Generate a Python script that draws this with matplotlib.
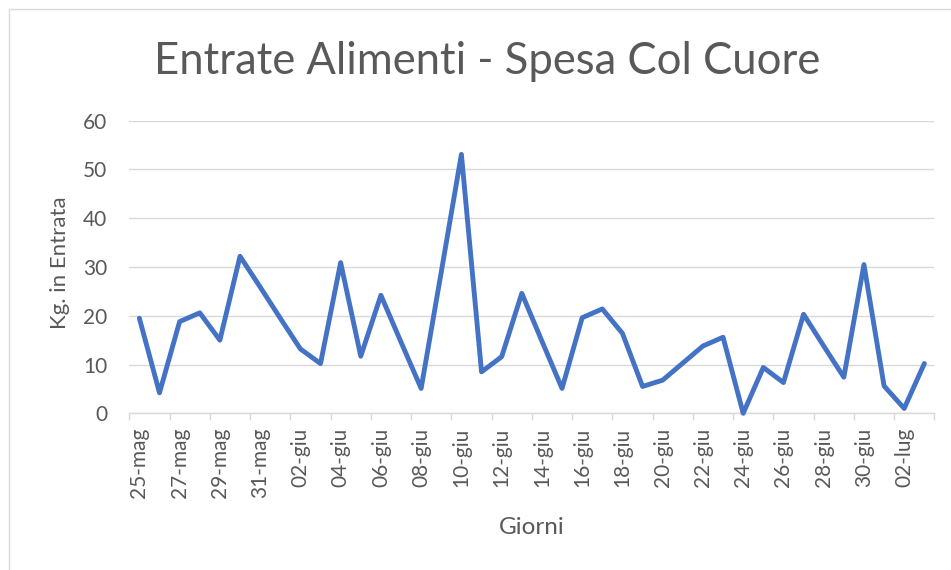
import matplotlib
matplotlib.use("Agg")
import matplotlib.pyplot as plt
from matplotlib.patches import Rectangle

days = ["25-mag", "26-mag", "27-mag", "28-mag", "29-mag", "30-mag", "31-mag",
        "01-giu", "02-giu", "03-giu", "04-giu", "05-giu", "06-giu", "07-giu",
        "08-giu", "09-giu", "10-giu", "11-giu", "12-giu", "13-giu", "14-giu",
        "15-giu", "16-giu", "17-giu", "18-giu", "19-giu", "20-giu", "21-giu",
        "22-giu", "23-giu", "24-giu", "25-giu", "26-giu", "27-giu", "28-giu",
        "29-giu", "30-giu", "01-lug", "02-lug", "03-lug"]
kg = [19.5, 4.2, 18.8, 20.6, 15.0, 32.2, 25.9, 19.5, 13.2, 10.2,
      30.9, 11.7, 24.2, 14.6, 5.1, 29.0, 53.1, 8.5, 11.6, 24.6,
      14.8, 5.1, 19.6, 21.4, 16.4, 5.5, 6.8, 10.3, 13.8, 15.6,
      0.0, 9.4, 6.3, 20.3, 13.8, 7.4, 30.5, 5.6, 1.0, 10.2]
yticks = [0, 10, 20, 30, 40, 50, 60]

title = "Entrate Alimenti - Spesa Col Cuore"
ylabel = "Kg. in Entrata"
xlabel = "Giorni"

FONT = ["Lato", "DejaVu Sans"]
plt.rcParams["font.family"] = FONT
TXT = "#595959"
GRID = "#d9d9d9"
LINE = "#4472C4"

W, H = 951, 570
fig = plt.figure(figsize=(W / 100, H / 100), dpi=100)
fig.patch.set_facecolor("white")

# chart border
fig.add_artist(Rectangle((9 / W, -0.05), 1.1, 1 - 9 / H + 0.05,
                         transform=fig.transFigure, fill=False,
                         edgecolor=GRID, linewidth=1.0))

ax = fig.add_axes([129.3 / W, 1 - 413.3 / H, (934.4 - 129.3) / W, (413.3 - 120.7) / H])
ax.plot(days, kg, color=LINE, linewidth=3.5, solid_joinstyle="round",
        solid_capstyle="round", zorder=3, clip_on=False)

n = len(days)
ax.set_xlim(-0.5, n - 0.5)
ax.set_ylim(0, 60)
ax.set_yticks(yticks)
ax.set_xticks(range(0, n, 2))
ax.set_xticklabels(days[0::2], rotation=90)
ax.set_xticks([i - 0.5 for i in range(0, n + 1, 2)], minor=True)

for s in ["top", "right", "left"]:
    ax.spines[s].set_visible(False)
ax.spines["bottom"].set_color(GRID)
ax.spines["bottom"].set_linewidth(1.0)

ax.yaxis.grid(True, color=GRID, linewidth=1.0)
ax.set_axisbelow(True)

ax.tick_params(axis="x", which="major", length=0, pad=10.5, labelsize=15, labelcolor=TXT)
ax.tick_params(axis="x", which="minor", length=5, color=GRID, width=1.0)
ax.tick_params(axis="y", length=0, pad=16, labelsize=15, labelcolor=TXT)

fig.text(487 / W, 1 - 62 / H, title, ha="center", va="center",
         fontsize=31.4, color=TXT)
fig.text(60 / W, 1 - 263 / H, ylabel, ha="center", va="center",
         rotation=90, fontsize=16, color=TXT)
fig.text(532 / W, 1 - 527 / H, xlabel, ha="center", va="center",
         fontsize=17.5, color=TXT)

fig.savefig("out.png", dpi=100, facecolor="white")
